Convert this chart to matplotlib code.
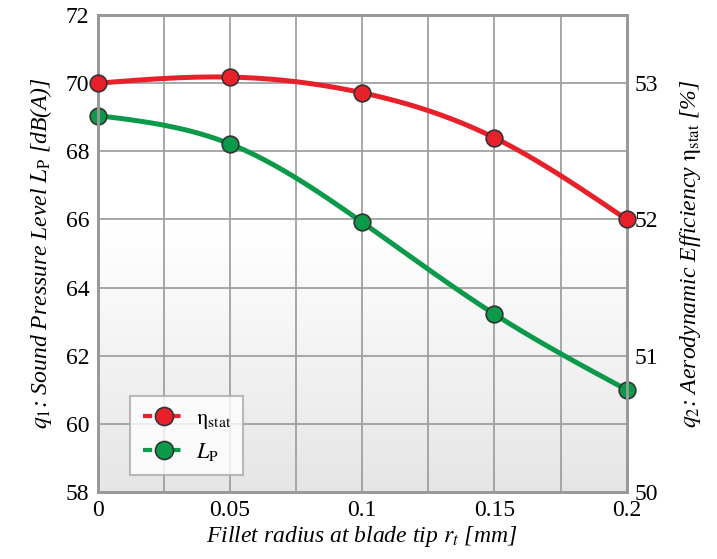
import numpy as np
import matplotlib.pyplot as plt
from matplotlib.lines import Line2D

# fillet radius [mm]
radius = [0.0, 0.05, 0.1, 0.15, 0.2]
# sound pressure level L_P [dB(A)]
lp = [69.05, 68.22, 65.92, 63.22, 61.0]
# static efficiency [%]
eta = [53.0, 53.045, 52.93, 52.60, 52.0]

red = '#e8202a'
green = '#0b9a4a'
grey = '#a0a0a0'

plt.rcParams['font.family'] = ['Liberation Serif', 'DejaVu Serif']
plt.rcParams['mathtext.fontset'] = 'stix'


def smooth(x, y, n=200):
    # natural cubic spline, used only to draw the curve between markers
    x = np.asarray(x, float)
    y = np.asarray(y, float)
    k = len(x)
    h = np.diff(x)
    A = np.zeros((k, k))
    b = np.zeros(k)
    A[0, 0] = A[-1, -1] = 1
    for i in range(1, k - 1):
        A[i, i - 1] = h[i - 1]
        A[i, i] = 2 * (h[i - 1] + h[i])
        A[i, i + 1] = h[i]
        b[i] = 6 * ((y[i + 1] - y[i]) / h[i] - (y[i] - y[i - 1]) / h[i - 1])
    m = np.linalg.solve(A, b)
    xs = np.linspace(x[0], x[-1], n)
    idx = np.clip(np.searchsorted(x, xs) - 1, 0, k - 2)
    t0 = xs - x[idx]
    t1 = x[idx + 1] - xs
    hh = h[idx]
    ys = (m[idx] * t1**3 + m[idx + 1] * t0**3) / (6 * hh) \
        + (y[idx] / hh - m[idx] * hh / 6) * t1 \
        + (y[idx + 1] / hh - m[idx + 1] * hh / 6) * t0
    return xs, ys


fig = plt.figure(figsize=(7.17, 5.59), dpi=100)
ax = fig.add_axes([0.136, 0.12, 0.738, 0.853])
ax2 = ax.twinx()

ax.set_xlim(0, 0.2)
ax.set_ylim(58, 72)
ax2.set_ylim(50, 53.5)

# background gradient: white on top, light grey at the bottom
g = np.linspace(0, 1, 256)
g = np.clip((g - 0.45) / 0.55, 0, 1)
col = 1 - 0.10 * g[:, None]
img = np.dstack([col, col, col])
ax.imshow(img, extent=[0, 0.2, 58, 72], origin='upper', aspect='auto',
          zorder=0)

ax.set_xticks([0, 0.05, 0.1, 0.15, 0.2])
ax.set_xticklabels(['0', '0.05', '0.1', '0.15', '0.2'])
ax.set_xticks(np.arange(0.025, 0.2, 0.05), minor=True)
ax.set_yticks(range(58, 73, 2))
ax.grid(True, which='both', color=grey, lw=1.3, zorder=1)
ax2.set_yticks([50, 51, 52, 53])

for a in (ax, ax2):
    a.tick_params(which='both', length=0, labelsize=17, pad=6)
    for s in a.spines.values():
        s.set_color('#999999')
        s.set_linewidth(2)

xs, ys = smooth(radius, eta)
ax2.plot(xs, ys, color=red, lw=3.6, zorder=3, solid_capstyle='round')
ax2.plot(radius, eta, 'o', ms=12, mfc=red, mec='#333333', mew=1.2, zorder=4,
         clip_on=False)
xs, ys = smooth(radius, lp)
ax.plot(xs, ys, color=green, lw=3.6, zorder=3, solid_capstyle='round')
ax.plot(radius, lp, 'o', ms=12, mfc=green, mec='#333333', mew=1.2, zorder=4,
        clip_on=False)
ax2.set_zorder(ax.get_zorder() + 1)
ax2.patch.set_visible(False)

ax.set_xlabel(r'Fillet radius at blade tip $r_t$ [mm]', fontsize=17,
              style='italic', labelpad=2)
ax.set_ylabel(r'$q_1$: Sound Pressure Level $L_{\mathrm{P}}$ [dB(A)]',
              fontsize=17, style='italic', labelpad=8)
ax2.set_ylabel(r'$q_2$: Aerodynamic Efficiency $\mathrm{\eta_{stat}}$ [%]',
               fontsize=17, style='italic', labelpad=14)

handles = [
    Line2D([], [], color=red, lw=3, ls=(0, (2.2, 1.2)), marker='o', ms=13,
           mfc=red, mec='#333333', mew=1.2),
    Line2D([], [], color=green, lw=3, ls=(0, (2.2, 1.2)), marker='o', ms=13,
           mfc=green, mec='#333333', mew=1.2),
]
leg = ax2.legend(handles, [r'$\mathrm{\eta_{stat}}$', r'$L_{\mathrm{P}}$'],
                 loc='lower left', bbox_to_anchor=(0.062, 0.036),
                 borderaxespad=0, fontsize=16, frameon=True, fancybox=False,
                 handlelength=1.9, handletextpad=0.5, borderpad=0.55,
                 labelspacing=0.45)
leg.get_frame().set_edgecolor('#aaaaaa')
leg.get_frame().set_linewidth(1.5)

fig.savefig('out.png', dpi=100)
